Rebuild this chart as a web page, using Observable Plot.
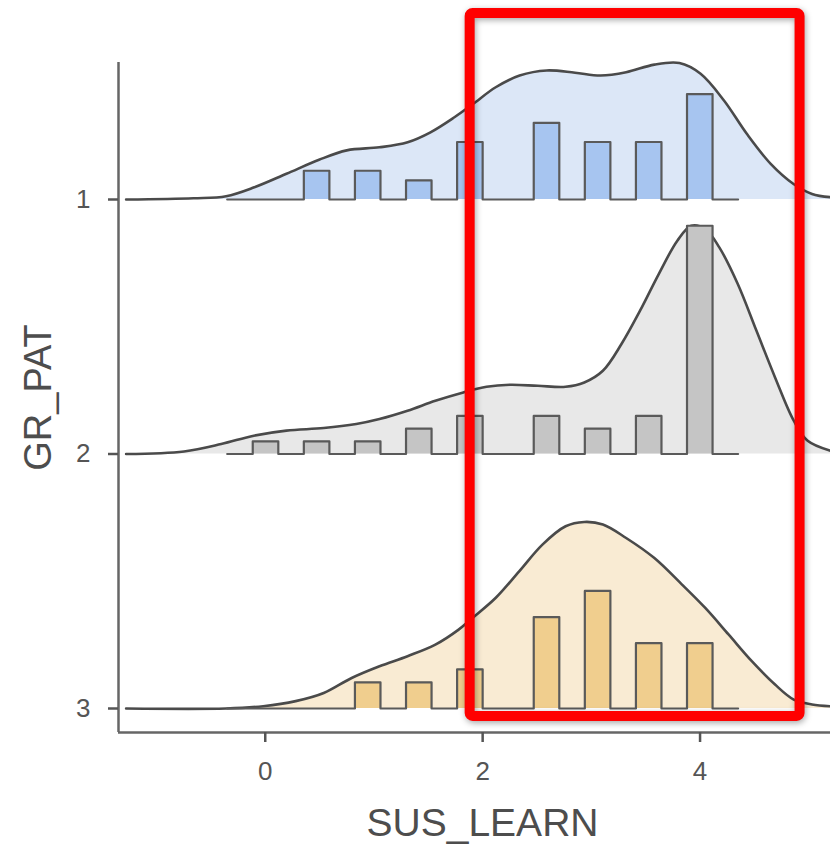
<!DOCTYPE html>
<html>
<head>
<meta charset="utf-8">
<script src="https://cdn.jsdelivr.net/npm/d3@7"></script>
<script src="https://cdn.jsdelivr.net/npm/@observablehq/plot@0.6"></script>
<style>
  html, body { margin: 0; padding: 0; background: #fff; }
  #chart svg { display: block; }
</style>
</head>
<body>
<div id="chart"></div>
<script>
// ---- data ----
const groups = [1, 2, 3];
const xTicks = [0, 2, 4];
const yTicks = [1, 2, 3];
const xTitle = "SUS_LEARN";
const yTitle = "GR_PAT";

// SUS_LEARN score values and their counts per GR_PAT group
const scoreValues = [0, 0.5, 1, 1.5, 2, 2.5, 3, 3.5, 4];
const counts1 = [0, 3, 3, 2, 6, 8, 6, 6, 11];
const counts2 = [1, 1, 1, 2, 3, 3, 2, 3, 18];
const counts3 = [0, 0, 2, 2, 3, 7, 9, 5, 5];

// density ridge heights [SUS_LEARN, scaled density]
const dens1 = [[-1.28,0],[-0.66,0.005],[-0.36,0.013],[-0.10,0.048],[0.195,0.101],[0.495,0.156],[0.75,0.193],[1.05,0.205],[1.31,0.225],[1.52,0.264],[1.74,0.323],[1.91,0.375],[2.12,0.441],[2.34,0.487],[2.59,0.507],[2.85,0.498],[3.085,0.487],[3.32,0.500],[3.58,0.530],[3.81,0.536],[4.005,0.494],[4.22,0.389],[4.43,0.258],[4.65,0.140],[4.86,0.061],[5.03,0.022],[5.2,0.009]];
const dens2 = [[-1.28,0],[-0.747,0.010],[-0.405,0.039],[-0.105,0.072],[0.195,0.092],[0.538,0.102],[0.837,0.118],[1.051,0.1375],[1.309,0.170],[1.565,0.209],[1.822,0.242],[2.036,0.264],[2.25,0.272],[2.507,0.268],[2.763,0.264],[2.935,0.281],[3.106,0.327],[3.277,0.432],[3.448,0.563],[3.62,0.707],[3.791,0.838],[3.919,0.897],[4.048,0.884],[4.177,0.812],[4.347,0.668],[4.519,0.484],[4.69,0.301],[4.862,0.131],[4.99,0.052],[5.2,0.013]];
const dens3 = [[-1.28,0],[-0.361,0],[-0.019,0.009],[0.28,0.029],[0.538,0.061],[0.795,0.120],[1.051,0.166],[1.309,0.2055],[1.565,0.251],[1.779,0.310],[1.907,0.356],[2.121,0.435],[2.336,0.539],[2.55,0.644],[2.763,0.716],[2.935,0.733],[3.106,0.723],[3.32,0.670],[3.577,0.592],[3.834,0.487],[4.048,0.395],[4.262,0.291],[4.476,0.186],[4.69,0.094],[4.862,0.035],[5.03,0.016],[5.2,0.009]];

// highlighted region (red box annotation)
const highlight = [{x1: 1.885, x2: 4.92, y1: 0.269, y2: 3.031}];

// ---- setup ----
const countsByGroup = {1: counts1, 2: counts2, 3: counts3};
const densByGroup = {1: dens1, 2: dens2, 3: dens3};
const fills = {1: "#dce7f7", 2: "#e8e8e8", 3: "#f9ebd3"};
const barFills = {1: "#a7c5f0", 2: "#c5c5c5", 3: "#f0ce8e"};

const binStart = -0.35, binWidth = 0.235, binCount = 20;
const histScale = 1.694;
const xDomain = [-1.35, 5.2];
const yDomain = [0.4617, 3.0943];

function histSteps(counts, g) {
  const n = d3.sum(counts);
  const bins = new Array(binCount).fill(0);
  scoreValues.forEach((v, i) => {
    const k = Math.ceil((v - binStart) / binWidth - 1e-6) - 1;
    bins[k] += counts[i];
  });
  const pts = bins.map((c, k) => ({x: binStart + k * binWidth, base: g, top: g - c / n * histScale}));
  pts.push({x: binStart + binCount * binWidth, base: g, top: g});
  return pts;
}

const marks = [];
for (const g of groups) {
  const dens = densByGroup[g];
  const steps = histSteps(countsByGroup[g], g);
  marks.push(Plot.areaY(dens, {x: d => d[0], y1: () => g, y2: d => g - d[1], fill: fills[g], curve: "catmull-rom"}));
  marks.push(Plot.line(dens, {x: d => d[0], y: d => g - d[1], stroke: "#4a4a4a", strokeWidth: 2.6, curve: "catmull-rom"}));
  marks.push(Plot.areaY(steps, {x: "x", y1: "base", y2: "top", fill: barFills[g], curve: "step-after"}));
  marks.push(Plot.line(steps, {x: "x", y: "top", stroke: "#5a5a5a", strokeWidth: 2.2, curve: "step-after"}));
}

marks.push(Plot.ruleX([xDomain[0]], {stroke: "#666", strokeWidth: 2.5}));
marks.push(Plot.ruleY([yDomain[1]], {stroke: "#666", strokeWidth: 2.5}));
marks.push(Plot.axisX(xTicks, {tickSize: 10, tickPadding: 19, strokeWidth: 2.5, fontSize: 26, label: null, tickFormat: d => String(d)}));
marks.push(Plot.axisY(yTicks, {tickSize: 10, tickPadding: 18, strokeWidth: 2.5, fontSize: 26, label: null, tickFormat: d => String(d)}));
marks.push(Plot.text([yTitle], {text: d => d, frameAnchor: "left", textAnchor: "middle", lineAnchor: "middle", dx: -80, rotate: -90, fontSize: 38, fill: "#4d4d4d"}));
marks.push(Plot.text([xTitle], {text: d => d, frameAnchor: "bottom", textAnchor: "middle", lineAnchor: "middle", dx: 8, dy: 91, fontSize: 39, fill: "#4d4d4d"}));
marks.push(Plot.rect(highlight, {x1: "x1", x2: "x2", y1: "y1", y2: "y2", fill: "none", stroke: "#ff0000", strokeWidth: 10, rx: 3}));

const chart = Plot.plot({
  width: 830,
  height: 845,
  marginTop: 62,
  marginBottom: 113,
  marginLeft: 118,
  marginRight: 0,
  x: {domain: xDomain},
  y: {domain: yDomain, reverse: true},
  style: {fontFamily: "'Liberation Sans', Arial, sans-serif", fontSize: "26px", color: "#555", background: "#fff", overflow: "hidden"},
  marks
});
chart.querySelectorAll('g[aria-label="rect"] rect').forEach(r => {
  r.style.filter = "drop-shadow(1px 2px 3px rgba(0,0,0,0.35))";
});
document.getElementById("chart").appendChild(chart);
</script>
</body>
</html>
